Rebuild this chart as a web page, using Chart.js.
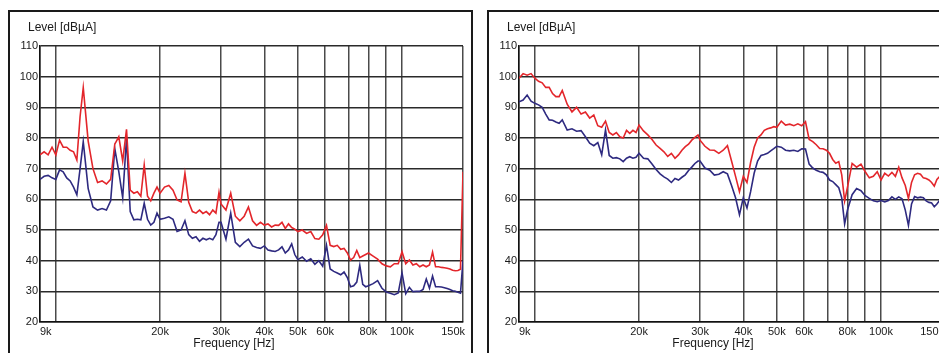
<!DOCTYPE html>
<html>
<head>
<meta charset="utf-8">
<script src="https://cdn.jsdelivr.net/npm/chart.js@4/dist/chart.umd.min.js"></script>
<style>
  html, body { margin: 0; padding: 0; overflow: hidden; background: #fff; width: 939px; height: 353px; }
  .frame { position: absolute; top: 10px; height: 400px; border: 2px solid #1a1a1a; border-bottom: none; box-sizing: border-box; }
  .box { position: absolute; top: 0; width: 470px; height: 353px; }
</style>
</head>
<body>
<div class="frame" style="left:8px;width:465px"></div>
<div class="frame" style="left:487px;width:520px"></div>
<div class="box" style="left:0"><canvas id="left"></canvas></div>
<div class="box" style="left:479px"><canvas id="right"></canvas></div>
<script>
// sweep frequencies in kHz (shared by both plots)
const freqKHz = [
  9, 9.25, 9.5, 9.75, 10, 10.25, 10.5, 10.75, 11, 11.25, 11.5, 11.75, 12,
  12.4, 12.8, 13.2, 13.6, 14, 14.4, 14.8, 15.2, 15.6, 16, 16.4, 16.8, 17.2, 17.6, 18, 18.4, 18.8, 19.2, 19.6, 20,
  20.6, 21.2, 21.8, 22.4, 23, 23.6, 24.2, 24.8, 25.4, 26, 26.6, 27.2, 27.8, 28.4, 29, 29.6,
  30, 31, 32, 33, 34, 35, 36, 37, 38, 39, 40, 41, 42, 43, 44, 45, 46, 47, 48, 49, 50,
  51.5, 53, 54.5, 56, 57.5, 59, 60.5, 62, 63.5, 65, 66.5, 68, 69.5, 71, 72.5, 74, 75.5, 77, 78.5, 80,
  82.5, 85, 87.5, 90, 92.5, 95, 97.5, 100, 102.5, 105, 107.5, 110, 112.5, 115, 117.5, 120,
  122.5, 125, 127.5, 130, 132.5, 135, 137.5, 140, 142.5, 145, 147.5, 150
];

// left plot, dBuA
const leftRed = [
  74.5, 75.5, 74.5, 77, 74.5, 79.3, 77, 77, 76, 75.5, 72.8, 87, 96.4,
  79, 70, 65.5, 66, 65, 66.5, 78, 80.4, 72.5, 82.8, 63, 62, 62.5, 61, 71.2, 61, 59.5, 62, 64, 62,
  64, 64.5, 63, 59.8, 59.2, 68.5, 59, 56, 55.5, 56.5, 55.4, 56, 55, 56.5, 55.5, 62.3,
  58.5, 56.5, 62, 54.5, 53, 54.5, 57.5, 53, 51.5, 52.5, 51.6, 52, 51, 51.6, 51.5, 52.5, 50.5, 52, 50.8, 50.3, 49.5,
  50, 48.9, 49.5, 47.2, 47, 48.4, 51.5, 45, 44.6, 45, 43.7, 44, 42.5, 40.2, 41, 43.3, 41, 41.5, 42, 42.5,
  41.5, 40.5, 39, 38.3, 38, 39, 39, 42.9, 39, 40.2, 38.6, 39, 38, 38.6, 38, 38.6,
  42.8, 38, 38, 37.8, 37.7, 37.5, 37.3, 36.9, 36.7, 36.8, 37.2, 69
];
const leftBlue = [
  66.5, 67.5, 67.8, 67, 66.5, 69.6, 69, 67, 66, 64, 61.5, 70, 78.8,
  63.5, 57.5, 56.5, 57, 56.5, 59.5, 76.5, 69, 60.5, 80, 56, 53.3, 53.5, 53.3, 58.7, 53.5, 51.6, 52.5, 55.5, 53.5,
  53.8, 54.3, 53.5, 49.5, 50, 53, 48.5, 47.3, 47.8, 46.3, 47.3, 46.8, 47.3, 46.8, 48.5, 52.5,
  52.5, 47, 55.5, 46, 44.6, 46, 47, 44.8, 44.3, 44, 44.8, 43.5, 43.2, 43, 43.5, 44.5, 42.5, 43.5, 45.5, 42, 40.3,
  41.2, 39.8, 40.6, 38.8, 40, 38.2, 45, 37.3, 36.5, 36, 35.4, 36.3, 34.5, 31.5, 31.8, 33, 38.5, 32.3, 31.5, 31.8,
  32.5, 33.5, 31, 29.8, 29.4, 28.9, 29.5, 36, 29.2, 31.3, 29.9, 30, 30, 30.6, 34, 31,
  35, 31.5, 31.5, 31.4, 31.2, 30.9, 30.6, 30.2, 30, 29.7, 29.4, 40
];

// right plot, dBuA
const rightRed = [
  99.5, 101, 100.5, 101, 99.5, 98.5, 98, 96.5, 96.5, 94.5, 93.5, 93.5, 95.5,
  91, 88.5, 90, 87.8, 88.5, 86.5, 87.5, 84, 83.5, 85.5, 81.8, 81, 81.8, 80.4, 80, 82.5, 81.5, 82.5, 81.8, 84.2,
  82.3, 81, 79.5, 77.7, 76.6, 75.5, 74, 75, 73.4, 74.5, 76, 77.2, 78, 79.3, 80.2, 81,
  79.3, 77.3, 76.1, 76, 75, 76, 77.5, 72.5, 67.5, 62.5, 67.5, 65.5, 72, 77, 80, 81, 82.5, 83, 83.3, 83.7, 83.5,
  85.5, 84.2, 84.5, 84, 84.6, 84, 85.3, 79.5, 78.8, 77.8, 76.6, 76.5, 76, 75, 73, 71.8, 72.3, 68, 59.5, 64,
  71.7, 70.5, 71.5, 69, 67, 67.5, 69, 66.3, 68.5, 67.6, 68.8, 67.5, 70.5, 67, 64.5, 60.3,
  65.5, 68, 68.5, 68.2, 67, 66.8, 66.3, 65.5, 64.3, 66.5, 67.4, 67
];
const rightBlue = [
  91.8, 92.4, 94, 92, 91.3, 90.8, 90, 87.8, 85.9, 85.8, 85.2, 84.8, 85.9,
  82.6, 83, 82.2, 82.4, 80.4, 78.3, 77.5, 78.5, 74.5, 82.6, 74.3, 73.4, 73.6, 73.2, 72.3, 73.4, 73.9, 73.4, 73.7, 75,
  73.4, 73.2, 71.5, 69.7, 68.3, 67.3, 66.6, 65.5, 66.8, 66.3, 67.2, 68, 69.4, 70.5, 71.7, 72.5,
  72.5, 70.2, 69.5, 67.9, 68.2, 69, 68.3, 64.5, 60.5, 55, 60.5, 57.2, 62.5, 68.5, 72.5, 74.3, 74.6, 75, 75.8, 76.5, 77.3,
  77, 76, 75.8, 76, 75.6, 76.5, 76.4, 71.5, 70.2, 69.5, 69, 68.8, 68, 66.3, 65.8, 64.8, 63.8, 60.5, 52, 56.5,
  61.5, 63.5, 62.8, 61.2, 60.3, 59.5, 59.2, 59.6, 59.2, 59.6, 60.8, 60, 60.8, 60.2, 56.5, 51.5,
  58.5, 60.9, 60.5, 60.7, 60.5, 59.5, 59, 58.8, 57.6, 58.5, 59.6, 59.5
];

const yTicks = [20, 30, 40, 50, 60, 70, 80, 90, 100, 110];
const xTicksKHz = [9, 10, 20, 30, 40, 50, 60, 70, 80, 90, 100, 150];
const xTickLabels = ["9k", "", "20k", "30k", "40k", "50k", "60k", "", "80k", "", "100k", "150k"];

const FONT = '"Liberation Sans", Arial, sans-serif';

function series(vals) {
  return freqKHz.map((f, i) => ({ x: f * 1000, y: vals[i] }));
}

// x tick labels (first one left aligned, last one right aligned) and axis texts
const panelText = {
  id: "panelText",
  afterDraw(chart) {
    const ctx = chart.ctx;
    const xs = chart.scales.x;
    const area = chart.chartArea;
    ctx.save();
    ctx.fillStyle = "#1a1a1a";
    ctx.textBaseline = "alphabetic";
    ctx.font = "11px " + FONT;
    xTicksKHz.forEach((t, i) => {
      const lab = xTickLabels[i];
      if (!lab) return;
      const px = xs.getPixelForValue(t * 1000);
      if (i === 0) { ctx.textAlign = "left"; ctx.fillText(lab, px, area.bottom + 12.5); }
      else if (i === xTicksKHz.length - 1) { ctx.textAlign = "right"; ctx.fillText(lab, px + 2, area.bottom + 12.5); }
      else { ctx.textAlign = "center"; ctx.fillText(lab, px, area.bottom + 12.5); }
    });
    ctx.font = "12px " + FONT;
    ctx.textAlign = "left";
    ctx.fillText("Level [dBµA]", 28, 31);
    ctx.textAlign = "center";
    ctx.fillText("Frequency [Hz]", 234, 347);
    ctx.restore();
  }
};

function makeChart(id, red, blue) {
  return new Chart(document.getElementById(id), {
    type: "line",
    data: {
      datasets: [
        { data: series(red), borderColor: "#e3262b", borderWidth: 1.6, pointRadius: 0, tension: 0 },
        { data: series(blue), borderColor: "#2e2a80", borderWidth: 1.6, pointRadius: 0, tension: 0 }
      ]
    },
    options: {
      responsive: true,
      maintainAspectRatio: false,
      animation: false,
      events: [],
      layout: { padding: { left: 0, right: 7, top: 46, bottom: 0 } },
      plugins: { legend: { display: false }, tooltip: { enabled: false } },
      scales: {
        x: {
          type: "logarithmic",
          min: 9000,
          max: 150000,
          afterBuildTicks: s => { s.ticks = xTicksKHz.map(v => ({ value: v * 1000 })); },
          afterFit: s => { s.height = 31; },
          ticks: { display: false },
          grid: { color: "#4a4a4a", lineWidth: 1.5, drawTicks: false },
          border: { color: "#111", width: 1.5 }
        },
        y: {
          min: 20,
          max: 110,
          afterBuildTicks: s => { s.ticks = yTicks.map(v => ({ value: v })); },
          afterFit: s => { s.width = 40; },
          ticks: { color: "#1a1a1a", padding: 2, font: { size: 11, family: FONT } },
          grid: { color: "#2a2a2a", lineWidth: 1.5, drawTicks: false },
          border: { color: "#111", width: 1.5 }
        }
      }
    },
    plugins: [panelText]
  });
}

makeChart("left", leftRed, leftBlue);
makeChart("right", rightRed, rightBlue);
</script>
</body>
</html>
